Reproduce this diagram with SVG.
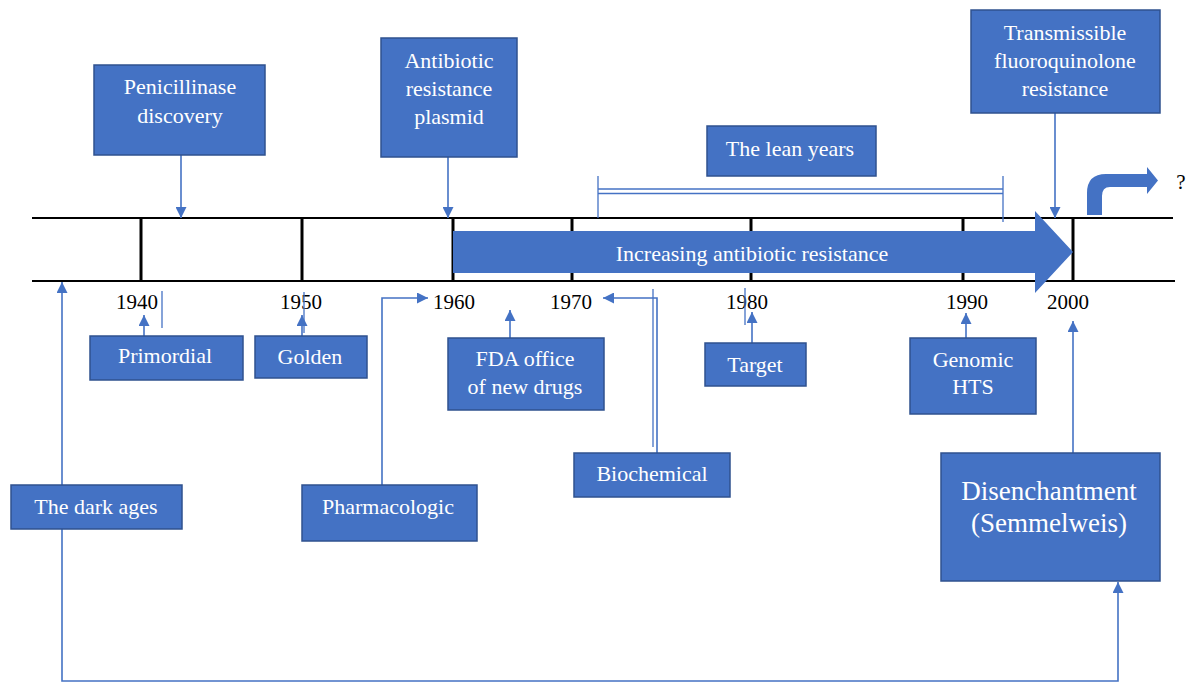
<svg xmlns="http://www.w3.org/2000/svg" width="1189" height="682" viewBox="0 0 1189 682">
<defs>
<marker id="ah" viewBox="0 0 10 10" refX="10" refY="5" markerWidth="8" markerHeight="8" markerUnits="userSpaceOnUse" orient="auto">
<path d="M0,0 L10,5 L0,10 Z" fill="#4472C4"/>
</marker>
<marker id="ahb" viewBox="0 0 10 10" refX="10" refY="5" markerWidth="11" markerHeight="11" markerUnits="userSpaceOnUse" orient="auto">
<path d="M0,0 L10,5 L0,10 Z" fill="#4472C4"/>
</marker>
<style>
.box{fill:#4472C4;stroke:#2F528F;stroke-width:1.5}
.bt{font-family:"Liberation Serif","Times New Roman",serif;font-size:22px;fill:#ffffff;text-anchor:middle}
.yr{font-family:"Liberation Serif","Times New Roman",serif;font-size:21px;fill:#000000;text-anchor:middle}
.tl{stroke:#000000;stroke-width:2;fill:none}
.tk{stroke:#000000;stroke-width:3;fill:none}
.c{stroke:#4472C4;stroke-width:1.6;fill:none}
.ca{stroke:#4472C4;stroke-width:1.6;fill:none;marker-end:url(#ahb)}
.thin{stroke:#4472C4;stroke-width:1.3;fill:none}
</style>
</defs>
<rect width="1189" height="682" fill="#ffffff"/>

<g id="timeline">
<line class="tl" x1="32" y1="218" x2="1173" y2="218"/>
<line class="tl" x1="32" y1="281" x2="1175" y2="281"/>
<line class="tk" x1="141" y1="218" x2="141" y2="281"/>
<line class="tk" x1="302" y1="218" x2="302" y2="281"/>
<line class="tk" x1="453" y1="218" x2="453" y2="281"/>
<line class="tk" x1="572" y1="218" x2="572" y2="281"/>
<line class="tk" x1="751" y1="218" x2="751" y2="281"/>
<line class="tk" x1="963" y1="218" x2="963" y2="281"/>
<line class="tk" x1="1073" y1="218" x2="1073" y2="281"/>
<text class="yr" x="137" y="309">1940</text>
<text class="yr" x="301" y="309">1950</text>
<text class="yr" x="454" y="309">1960</text>
<text class="yr" x="571" y="309">1970</text>
<text class="yr" x="747" y="309">1980</text>
<text class="yr" x="967" y="309">1990</text>
<text class="yr" x="1068" y="309">2000</text>
</g>

<g id="resistance-arrow">
<polygon points="453,231 1035,231 1035,211 1073,252 1035,293 1035,273 453,273" fill="#4472C4"/>
<text class="bt" x="752" y="261">Increasing antibiotic resistance</text>
</g>

<g id="future-arrow">
<path d="M1087,215 L1087,193 Q1087,174 1106,174 L1147,174 L1147,167 L1158,180.5 L1147,194 L1147,187 L1110,187 Q1102,187 1102,196 L1102,215 Z" fill="#4472C4"/>
<text x="1181" y="189" font-family="Liberation Serif, Times New Roman, serif" font-size="21" fill="#000000" text-anchor="middle">?</text>
</g>

<g id="lean-bracket">
<line class="thin" x1="598" y1="189" x2="1003" y2="189"/>
<line class="thin" x1="598" y1="193.5" x2="1003" y2="193.5"/>
<line class="thin" x1="598" y1="176" x2="598" y2="218"/>
<line class="thin" x1="1003" y1="176" x2="1003" y2="222"/>
</g>

<g id="connectors">
<line class="ca" x1="181" y1="155" x2="181" y2="218"/>
<line class="ca" x1="448" y1="157" x2="448" y2="218"/>
<line class="ca" x1="1055" y1="113" x2="1055" y2="218"/>
<line class="ca" x1="144" y1="336" x2="144" y2="315"/>
<line class="thin" x1="162" y1="291" x2="162" y2="328"/>
<line class="ca" x1="302" y1="336" x2="302" y2="315"/>
<line class="thin" x1="304" y1="292" x2="304" y2="333"/>
<polyline class="ca" points="382,485 382,298 428,298"/>
<line class="ca" x1="510" y1="338" x2="510" y2="310"/>
<polyline class="ca" points="657,453 657,298 603,298"/>
<line class="thin" x1="653" y1="289" x2="653" y2="447"/>
<line class="ca" x1="752" y1="343" x2="752" y2="312"/>
<line class="thin" x1="745" y1="288" x2="745" y2="325"/>
<line class="ca" x1="966" y1="338" x2="966" y2="313"/>
<line class="ca" x1="1073" y1="453" x2="1073" y2="321"/>
<line class="ca" x1="62" y1="485" x2="62" y2="282"/>
<polyline class="ca" points="62,529 62,681 1118,681 1118,582"/>
</g>

<g id="penicillinase">
<rect class="box" x="94" y="65" width="171" height="90"/>
<text class="bt" x="180" y="94">Penicillinase</text>
<text class="bt" x="180" y="123">discovery</text>
</g>

<g id="plasmid">
<rect class="box" x="381" y="38" width="136" height="119"/>
<text class="bt" x="449" y="68">Antibiotic</text>
<text class="bt" x="449" y="96">resistance</text>
<text class="bt" x="449" y="124">plasmid</text>
</g>

<g id="lean-years">
<rect class="box" x="707" y="126" width="169" height="50"/>
<text class="bt" x="790" y="156">The lean years</text>
</g>

<g id="fluoroquinolone">
<rect class="box" x="971" y="10" width="189" height="103"/>
<text class="bt" x="1065" y="40">Transmissible</text>
<text class="bt" x="1065" y="68">fluoroquinolone</text>
<text class="bt" x="1065" y="96">resistance</text>
</g>

<g id="primordial">
<rect class="box" x="90" y="336" width="153" height="44"/>
<text class="bt" x="165" y="363">Primordial</text>
</g>

<g id="golden">
<rect class="box" x="255" y="336" width="112" height="42"/>
<text class="bt" x="310" y="364">Golden</text>
</g>

<g id="fda">
<rect class="box" x="448" y="338" width="156" height="72"/>
<text class="bt" x="525" y="366">FDA office</text>
<text class="bt" x="525" y="394">of new drugs</text>
</g>

<g id="target">
<rect class="box" x="705" y="343" width="101" height="43"/>
<text class="bt" x="755" y="372">Target</text>
</g>

<g id="genomic">
<rect class="box" x="910" y="338" width="126" height="76"/>
<text class="bt" x="973" y="367">Genomic</text>
<text class="bt" x="973" y="394">HTS</text>
</g>

<g id="biochemical">
<rect class="box" x="574" y="453" width="156" height="44"/>
<text class="bt" x="652" y="481">Biochemical</text>
</g>

<g id="dark-ages">
<rect class="box" x="11" y="485" width="171" height="44"/>
<text class="bt" x="96" y="514">The dark ages</text>
</g>

<g id="pharmacologic">
<rect class="box" x="302" y="485" width="175" height="56"/>
<text class="bt" x="388" y="514">Pharmacologic</text>
</g>

<g id="disenchantment">
<rect class="box" x="941" y="453" width="219" height="128"/>
<text class="bt" x="1049" y="500" style="font-size:27px">Disenchantment</text>
<text class="bt" x="1049" y="532" style="font-size:27px">(Semmelweis)</text>
</g>
</svg>
